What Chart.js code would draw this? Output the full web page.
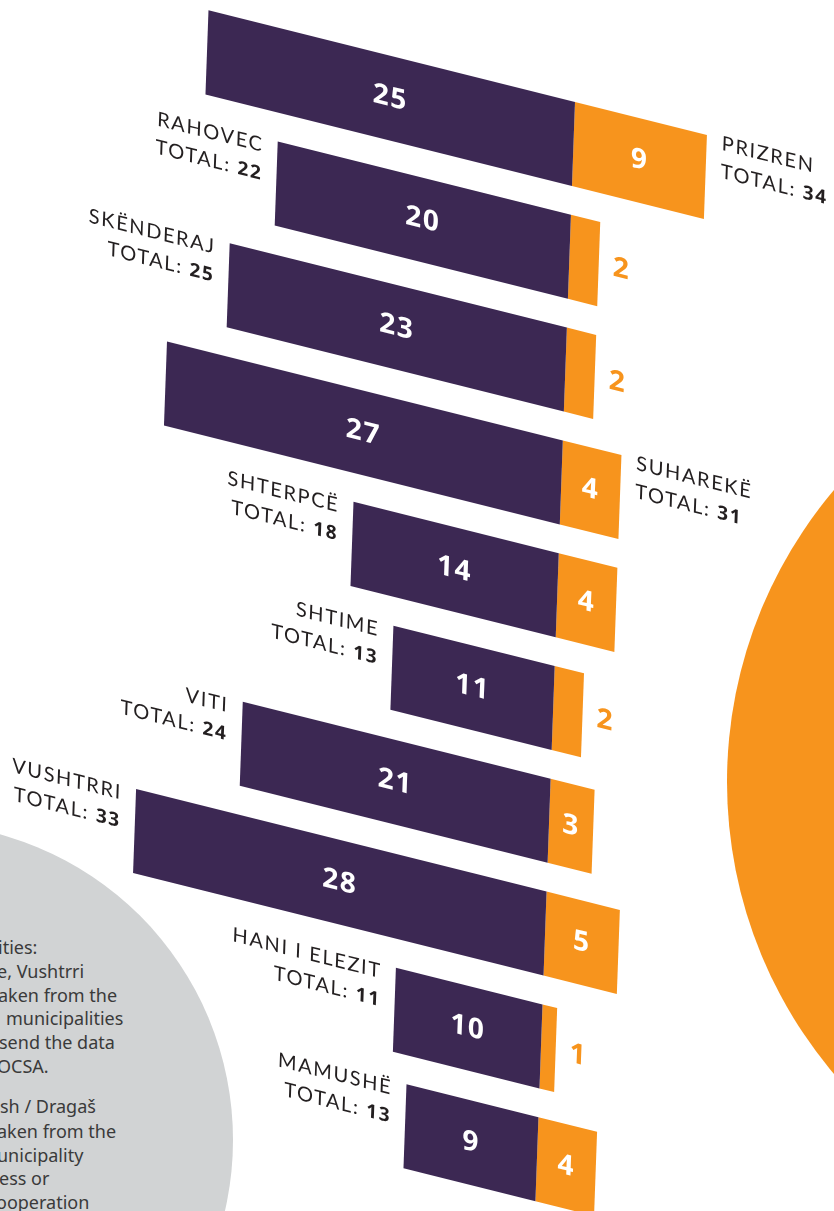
<!DOCTYPE html>
<html>
<head>
<meta charset="utf-8">
<title>Municipalities</title>
<script src="https://cdn.jsdelivr.net/npm/chart.js@4.4.1/dist/chart.umd.min.js"></script>
<style>
    html, body { margin: 0; padding: 0; background: #fff; }
    body { width: 834px; height: 1211px; overflow: hidden; position: relative; }
    #greyDisc { position: absolute; left: -401px; top: 823px; width: 634px; height: 634px; border-radius: 50%; background: #d1d3d4; }
    #orangeDisc { position: absolute; left: 727px; top: 330px; width: 904px; height: 904px; border-radius: 50%; background: #f7941d; }
    .note { position: absolute; font: 18px "Noto Sans", sans-serif; color: #3a3a3a; white-space: pre; line-height: 20px; }
    #chartBox { position: absolute; left: 0; top: 0; width: 834px; height: 1211px; }
</style>
</head>
<body>
<div id="greyDisc"></div>
<div id="orangeDisc"></div>

<div class="note" style="left:-2px;top:937px">ities:</div>
<div class="note" style="left:-3px;top:961px">e, Vushtrri</div>
<div class="note" style="left:-2px;top:985px">aken from the</div>
<div class="note" style="left:6px;top:1008px">municipalities</div>
<div class="note" style="left:-1px;top:1032px">send the data</div>
<div class="note" style="left:-3px;top:1056px">OCSA.</div>
<div class="note" style="left:0px;top:1096px">sh / Dragaš</div>
<div class="note" style="left:-3px;top:1121px">aken from the</div>
<div class="note" style="left:-3px;top:1145px">unicipality</div>
<div class="note" style="left:-1px;top:1168px">ess or</div>
<div class="note" style="left:-4px;top:1192px">ooperation</div>

<div id="chartBox"><canvas id="bars" width="834" height="1211"></canvas></div>

<script>
// values
const municipalities = ['PRIZREN', 'RAHOVEC', 'SKËNDERAJ', 'SUHAREKË', 'SHTERPCË', 'SHTIME', 'VITI', 'VUSHTRRI', 'HANI I ELEZIT', 'MAMUSHË'];
const purpleValues = [25, 20, 23, 27, 14, 11, 21, 28, 10, 9];
const orangeValues = [9, 2, 2, 4, 4, 2, 3, 5, 1, 4];
const totals = [34, 22, 25, 31, 18, 13, 24, 33, 11, 13];
const labelSide = ['right', 'left', 'left', 'right', 'left', 'left', 'left', 'left', 'left', 'left'];

const PURPLE = '#3c2853';
const ORANGE = '#f7941d';
const INK = '#231f20';

// the whole chart is slanted: bars run down to the right
const SLANT = [1, 0.25, -0.036, 1, 15.5, -52.4];

const slantPlugin = {
    id: 'slant',
    beforeDraw: function (chart) {
        chart.ctx.save();
        chart.ctx.transform.apply(chart.ctx, SLANT);
    },
    afterDraw: function (chart) {
        chart.ctx.restore();
    }
};

const LIGHT = '400 20px Lato, "Noto Sans", sans-serif';
const HEAVY = 'bold 19px "Noto Sans", sans-serif';

const labelPlugin = {
    id: 'barLabels',
    afterDatasetsDraw: function (chart) {
        const ctx = chart.ctx;
        const purpleBars = chart.getDatasetMeta(0).data;
        const orangeBars = chart.getDatasetMeta(1).data;

        ctx.save();
        ctx.textBaseline = 'middle';

        purpleBars.forEach(function (bar, i) {
            const o = orangeBars[i];

            // value inside the purple part
            ctx.font = 'bold 28px "Noto Sans", sans-serif';
            ctx.letterSpacing = '1.5px';
            ctx.fillStyle = '#fff';
            ctx.textAlign = 'center';
            ctx.fillText(String(purpleValues[i]), (bar.x + bar.base) / 2, bar.y);

            // orange value: inside when it fits, next to the bar when not
            if (orangeValues[i] >= 3) {
                ctx.fillStyle = '#fff';
                ctx.textAlign = 'center';
                ctx.fillText(String(orangeValues[i]), (o.x + o.base) / 2, o.y);
            } else {
                ctx.fillStyle = ORANGE;
                ctx.textAlign = 'left';
                ctx.fillText(String(orangeValues[i]), o.x + 14, o.y);
            }

            // name + total
            ctx.textBaseline = 'alphabetic';
            ctx.letterSpacing = '1.6px';
            ctx.fillStyle = INK;
            const line1 = bar.y - 28;
            const line2 = bar.y;
            const num = String(totals[i]);
            ctx.font = HEAVY;
            const numW = ctx.measureText(num).width;
            if (labelSide[i] === 'left') {
                const xr = bar.x - 14;
                ctx.textAlign = 'right';
                ctx.font = LIGHT;
                ctx.fillText(municipalities[i], xr, line1);
                ctx.font = HEAVY;
                ctx.fillText(num, xr, line2);
                ctx.font = LIGHT;
                ctx.fillText('TOTAL: ', xr - numW, line2);
            } else {
                const xl = o.x + 15;
                ctx.textAlign = 'left';
                ctx.font = LIGHT;
                ctx.fillText(municipalities[i], xl, line1 - 3);
                const tw = ctx.measureText('TOTAL: ').width;
                ctx.fillText('TOTAL: ', xl, line2 - 3);
                ctx.font = HEAVY;
                ctx.fillText(num, xl + tw, line2 - 3);
            }
            ctx.textBaseline = 'middle';
        });

        ctx.restore();
    }
};

const ctx = document.getElementById('bars');

new Chart(ctx, {
    type: 'bar',
    data: {
        labels: municipalities,
        datasets: [{
            data: purpleValues.map(function (v) { return -v; }),
            backgroundColor: PURPLE,
            borderWidth: 0,
            barPercentage: 0.745,
            categoryPercentage: 1,
            clip: false
        }, {
            data: orangeValues,
            backgroundColor: ORANGE,
            borderWidth: 0,
            barPercentage: 0.745,
            categoryPercentage: 1,
            clip: false
        }]
    },
    options: {
        indexAxis: 'y',
        responsive: false,
        animation: false,
        events: [],
        layout: {
            padding: { left: 0, right: 0, top: 0, bottom: 83 }
        },
        plugins: {
            legend: { display: false },
            tooltip: { enabled: false }
        },
        scales: {
            x: {
                stacked: true,
                display: false,
                min: -38.2,
                max: 18.69
            },
            y: {
                stacked: true,
                display: false
            }
        }
    },
    plugins: [slantPlugin, labelPlugin]
});
</script>
</body>
</html>
